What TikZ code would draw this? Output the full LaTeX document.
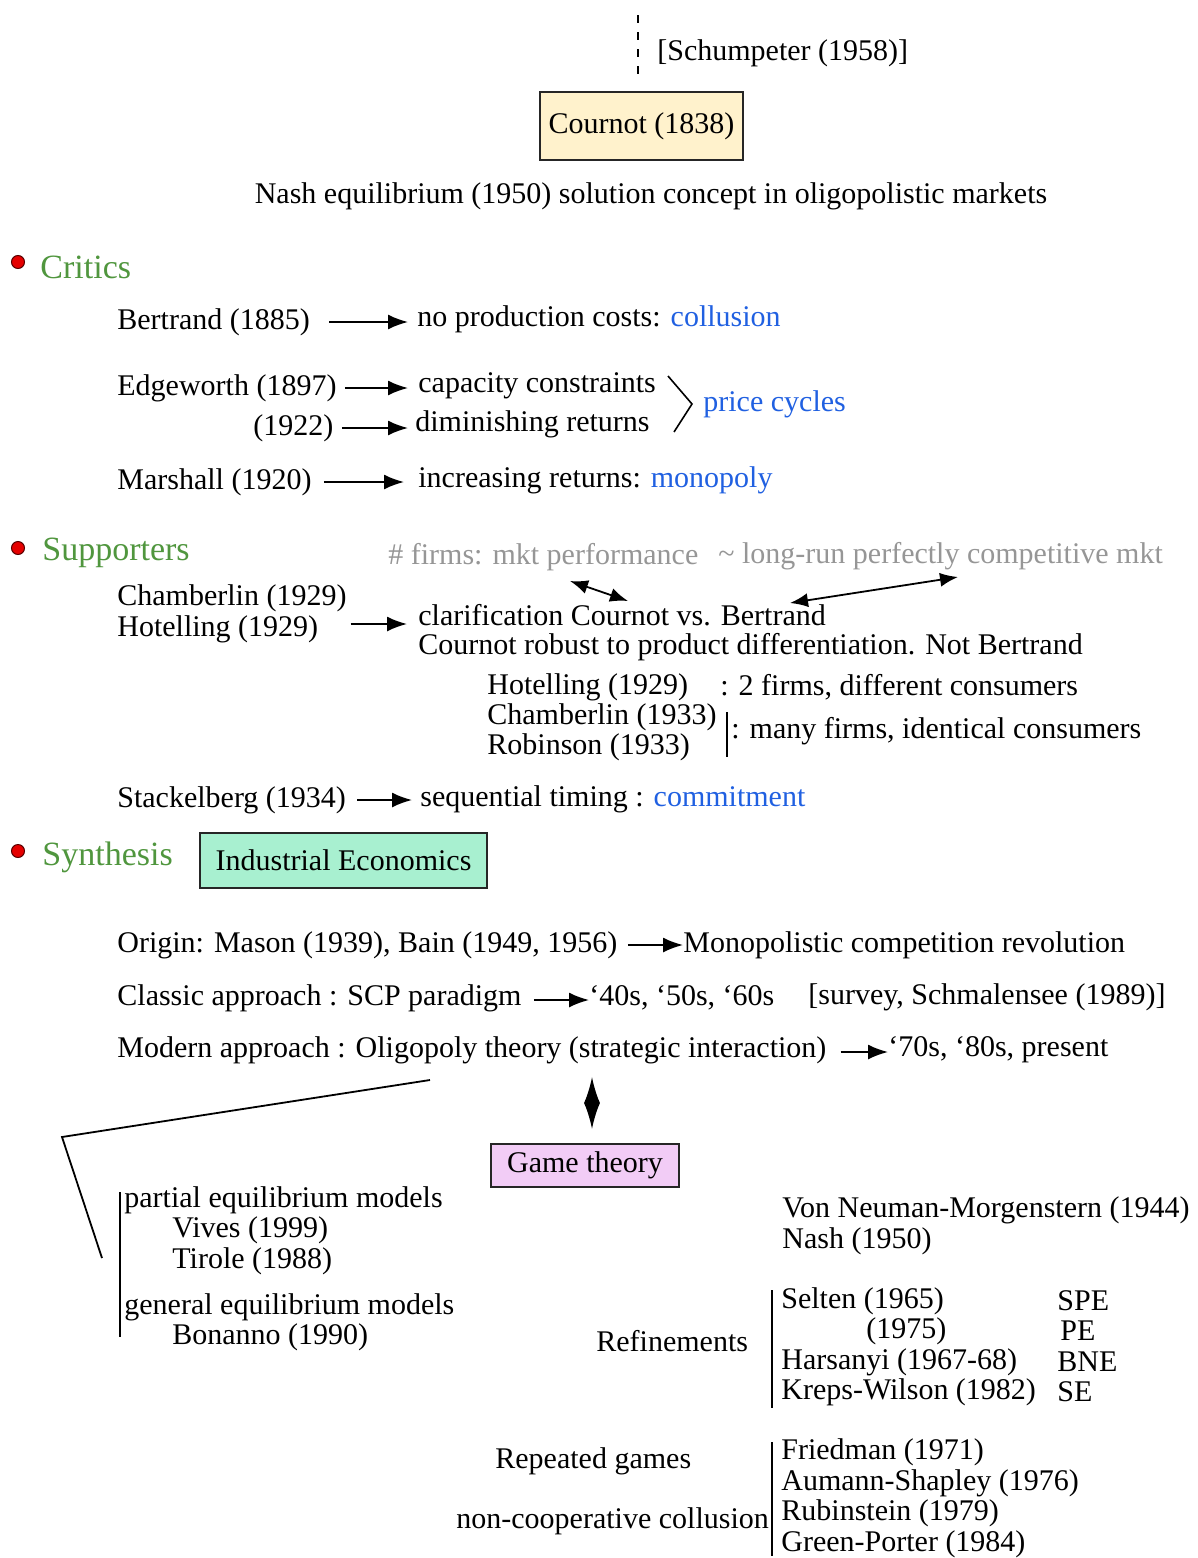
\documentclass[tikz,border=0pt]{standalone}
\usepackage{fontspec}
\setmainfont{Liberation Serif}
\usetikzlibrary{arrows.meta}
\definecolor{hdgreen}{RGB}{80,150,62}
\definecolor{lnkblue}{RGB}{32,96,225}
\definecolor{grtxt}{RGB}{150,150,150}
\definecolor{cournotfill}{RGB}{255,242,204}
\definecolor{iefill}{RGB}{168,240,208}
\definecolor{gtfill}{RGB}{242,204,246}
\begin{document}
\begin{tikzpicture}[x=0.5pt,y=-0.5pt,
  txt/.style={anchor=west, inner sep=0pt, font=\fontsize{15}{15.5}\selectfont},
  gtxt/.style={txt, text=grtxt},
  hd/.style={anchor=west, inner sep=0pt, text=hdgreen, font=\fontsize{17}{18}\selectfont},
  bul/.style={circle, fill=red!90!black, draw=red!35!black, line width=0.5pt, minimum size=6.5pt, inner sep=0pt},
  tbox/.style={draw=black!85, line width=1pt, inner sep=0pt, font=\fontsize{15}{15.5}\selectfont},
  arr/.style={-{Latex[length=10pt,width=7.5pt]}, line width=0.9pt},
  darr/.style={{Latex[length=9pt,width=7pt]}-{Latex[length=9pt,width=7pt]}, line width=0.9pt},
  bar/.style={line width=0.8pt}
]
\useasboundingbox (0,0) rectangle (1198,1558);

% ---- top ----
\node[tbox, fill=cournotfill, minimum width=101.5pt, minimum height=34pt] (cournot) at (641.5,126) {Cournot (1838)};
\coordinate (dtop) at (638,15);
\draw[line width=1pt, dash pattern=on 4pt off 4.5pt] (dtop) -- ([yshift=7pt]dtop |- cournot.north);
\node[txt] (schum) at (657,53) {[Schumpeter (1958)]};
\node[txt, anchor=center] (nash) at (651,196) {Nash equilibrium (1950) solution concept in oligopolistic markets};

% ---- Critics ----
\node[bul] (bul1) at (18,262) {};
\node[hd] (critics) at (40,267) {Critics};

\node[txt] (bert) at (117,322) {Bertrand (1885)};
\node[txt] (nopc) at (417,319) {no production costs: \textcolor{lnkblue}{collusion}};
\draw[arr] ([xshift=9.5pt]bert.east) -- ([xshift=-4.5pt]bert.east -| nopc.west);

\node[txt] (edge) at (117,388) {Edgeworth (1897)};
\node[txt] (capc) at (418,386) {capacity constraints};
\draw[arr] ([xshift=4pt]edge.east) -- ([xshift=-5pt]edge.east -| capc.west);

\node[txt] (edge2) at (253,428) {(1922)};
\node[txt] (dimr) at (415,424) {diminishing returns};
\draw[arr] ([xshift=4pt]edge2.east) -- ([xshift=-3.5pt]edge2.east -| dimr.west);

\coordinate (brtop) at (668,376);
\coordinate (brtip) at (692,404);
\coordinate (brbot) at (674,432);
\draw[line width=0.8pt] (brtop) -- (brtip) -- (brbot);
\node[txt, text=lnkblue] (pcyc) at (703,404) {price cycles};

\node[txt] (marsh) at (117,482) {Marshall (1920)};
\node[txt] (incr) at (418,480) {increasing returns: \textcolor{lnkblue}{monopoly}};
\draw[arr] ([xshift=6pt]marsh.east) -- ([xshift=-7pt]marsh.east -| incr.west);

% ---- Supporters ----
\node[bul] (bul2) at (18,548) {};
\node[hd] (supp) at (42,553) {Supporters};

\node[gtxt] (firms) at (388,557) {\# firms: mkt performance};
\node[gtxt] (lrun) at (718,556) {\textasciitilde{} long-run perfectly competitive mkt};

\node[txt] (cham) at (117,598) {Chamberlin (1929)};
\node[txt] (hot) at (117,629) {Hotelling (1929)};
\node[txt] (clar) at (418,615) {clarification Cournot vs. Bertrand};
\node[txt] (robust) at (418,647) {Cournot robust to product differentiation. Not Bertrand};
\draw[arr] ([xshift=16pt,yshift=2.5pt]hot.east) -- ([xshift=-5.5pt,yshift=2.5pt]hot.east -| clar.west);

\coordinate (a1s) at (570,581);
\coordinate (a1e) at (628,601);
\draw[darr] (a1s) -- (a1e);
\coordinate (a2s) at (790,603);
\coordinate (a2e) at (958,577);
\draw[darr] (a2s) -- (a2e);

\node[txt] (hot2) at (487,687) {Hotelling (1929)};
\node[txt] (twof) at (720,687) {: 2 firms, different consumers};
\node[txt] (cham2) at (487,717) {Chamberlin (1933)};
\node[txt] (rob) at (487,747) {Robinson (1933)};
\coordinate (b1t) at (727,712);
\coordinate (b1b) at (727,757);
\draw[bar] (b1t) -- (b1b);
\node[txt] (manyf) at (731,731) {: many firms, identical consumers};

\node[txt] (stack) at (117,800) {Stackelberg (1934)};
\node[txt] (seqt) at (420,799) {sequential timing : \textcolor{lnkblue}{commitment}};
\draw[arr] ([xshift=5.5pt]stack.east) -- ([xshift=-4pt]stack.east -| seqt.west);

% ---- Synthesis ----
\node[bul] (bul3) at (18,851) {};
\node[hd] (synth) at (42,857) {Synthesis};
\node[tbox, fill=iefill, minimum width=143.5pt, minimum height=27.5pt] (ie) at (343.5,860.5) {Industrial Economics};

\node[txt] (origin) at (117,945) {Origin: Mason (1939), Bain (1949, 1956)};
\node[txt] (mono) at (683,945) {Monopolistic competition revolution};
\draw[arr] ([xshift=5pt]origin.east) -- (origin.east -| mono.west);

\node[txt] (classic) at (117,998) {Classic approach : SCP paradigm};
\node[txt] (forties) at (589,998) {‘40s, ‘50s, ‘60s};
\node[txt] (survey) at (808,997) {[survey, Schmalensee (1989)]};
\draw[arr] ([xshift=6pt,yshift=-1pt]classic.east) -- ([yshift=-1pt]classic.east -| forties.west);

\node[txt] (modern) at (117,1050) {Modern approach : Oligopoly theory (strategic interaction)};
\node[txt] (seventies) at (888,1050) {‘70s, ‘80s, present};
\draw[arr] ([xshift=7pt,yshift=-1pt]modern.east) -- ([yshift=-1pt]modern.east -| seventies.west);

\coordinate (p1) at (430,1080);
\coordinate (p2) at (62,1137);
\coordinate (p3) at (102,1258);
\draw[line width=0.9pt] (p1) -- (p2) -- (p3);

\node[tbox, fill=gtfill, minimum width=94pt, minimum height=21.5pt] (gt) at (585,1165.5) {Game theory};
\draw[{Latex[length=13pt,width=8pt]}-{Latex[length=13pt,width=8pt]}, line width=0.9pt]
  ([xshift=3.5pt,yshift=7pt]gt.north) -- ([xshift=3.5pt,yshift=33pt]gt.north);

% left column
\coordinate (b2t) at (120,1192);
\coordinate (b2b) at (120,1337);
\draw[bar] (b2t) -- (b2b);
\node[txt] (pem) at (124,1200) {partial equilibrium models};
\node[txt] (vives) at (172,1230) {Vives (1999)};
\node[txt] (tirole) at (172,1261) {Tirole (1988)};
\node[txt] (gem) at (124,1307) {general equilibrium models};
\node[txt] (bon) at (172,1337) {Bonanno (1990)};

% right column
\node[txt] (vnm) at (782,1210) {Von Neuman-Morgenstern (1944)};
\node[txt] (nash2) at (782,1241) {Nash (1950)};

\node[txt] (refin) at (596,1341) {Refinements};
\coordinate (b3t) at (772,1290);
\coordinate (b3b) at (772,1408);
\draw[bar] (b3t) -- (b3b);
\node[txt] (selten) at (781,1301) {Selten (1965)};
\node[txt] (selten2) at (866,1331) {(1975)};
\node[txt] (hars) at (781,1362) {Harsanyi (1967-68)};
\node[txt] (kreps) at (781,1392) {Kreps-Wilson (1982)};
\node[txt] (spe) at (1057,1301) {SPE};
\node[txt] (pe) at (1060,1331) {PE};
\node[txt] (bne) at (1057,1362) {BNE};
\node[txt] (se) at (1057,1392) {SE};

\node[txt] (repg) at (495,1461) {Repeated games};
\node[txt] (ncc) at (456,1521) {non-cooperative collusion};
\coordinate (b4t) at (772,1442);
\coordinate (b4b) at (772,1556);
\draw[bar] (b4t) -- (b4b);
\node[txt] (fried) at (781,1452) {Friedman (1971)};
\node[txt] (aumann) at (781,1483) {Aumann-Shapley (1976)};
\node[txt] (rubin) at (781,1513) {Rubinstein (1979)};
\node[txt] (green) at (781,1544) {Green-Porter (1984)};
\end{tikzpicture}
\end{document}
